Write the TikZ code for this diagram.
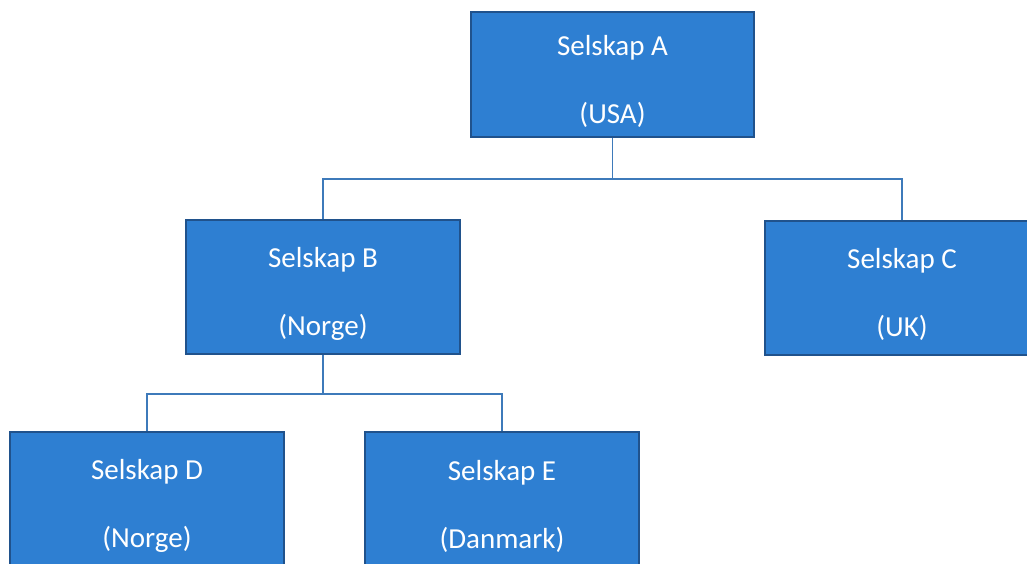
\documentclass[tikz,border=0pt]{standalone}
\usepackage{fontspec}
\setmainfont{Carlito}
\usetikzlibrary{positioning}
\definecolor{boxfill}{RGB}{46,127,210}
\definecolor{boxline}{RGB}{32,82,140}
\definecolor{linkline}{RGB}{62,122,186}
\newcommand{\selskap}[2]{\rule{0pt}{34pt}Selskap #1\\(#2)}

\begin{document}
\begin{tikzpicture}[x=1pt,y=1pt,node distance=200pt,on grid,
  firm/.style={rectangle,draw=boxline,line width=2pt,fill=boxfill,text=white,
    minimum width=274pt,minimum height=134pt,inner sep=0pt,align=center,
    font=\fontsize{29}{68}\selectfont},
  link/.style={draw=linkline,line width=1.5pt}]
  \clip (0,0) rectangle (1027,-563);
  \useasboundingbox (0,0) rectangle (1027,-563);
  \node[firm,minimum width=283pt,minimum height=125pt]
                  (A) at (612.5,-74.5)                    {\selskap{A}{USA}};
  \node[firm]     (B) [below left =212.5pt and 289.5pt of A]  {\selskap{B}{Norge}};
  \node[firm]     (C) [below right=213.5pt and 289.5pt of A]  {\selskap{C}{UK}};
  \node[firm]     (D) [below left =212pt and 176pt of B]      {\selskap{D}{Norge}};
  \node[firm]     (E) [below right=212pt and 179pt of B]      {\selskap{E}{Danmark}};
  % A to B and C
  \draw[link] (A.south) -- ++(0,-41) coordinate (ab);
  \draw[link] (B.north) |- (ab) -| (C.north);
  % B to D and E
  \draw[link] (B.south) -- ++(0,-39) coordinate (bd);
  \draw[link] (D.north) |- (bd) -| (E.north);
\end{tikzpicture}
\end{document}
